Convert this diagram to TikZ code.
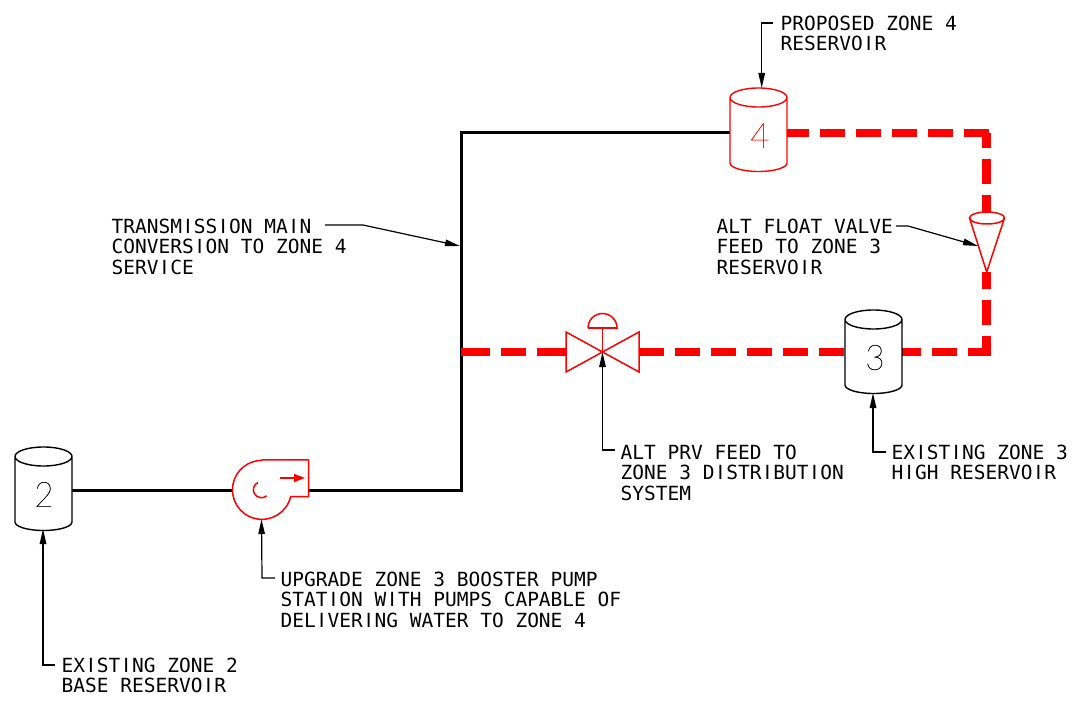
\documentclass[tikz,border=0pt]{standalone}
\usepackage{fontspec}
\usetikzlibrary{arrows.meta,calc}
\newfontfamily\labelfont{DejaVu Sans Mono}
\newfontfamily\plainIfont{DejaVu Sans}
\newfontfamily\digitfont[FakeStretch=0.95,FakeBold=0.6]{Lato Thin}
\XeTeXinterchartokenstate=1
\newXeTeXintercharclass\ltrIclass
\XeTeXcharclass`I=\ltrIclass
\XeTeXinterchartoks 0 \ltrIclass={\begingroup\plainIfont\kern3pt}
\XeTeXinterchartoks \ltrIclass 0={\kern3pt\endgroup}
\definecolor{pipered}{RGB}{255,0,0}
\tikzset{
  x=1pt,y=-1pt,
  tankbox/.style={minimum width=57pt,minimum height=#1,inner sep=0pt,outer sep=0pt},
  tankline/.style={line width=1.4pt,line join=round},
  mainpipe/.style={line width=3pt,black,line join=miter},
  altpipe/.style={line width=8.8pt,pipered,dash pattern=on 25pt off 11pt},
  symb/.style={line width=1.5pt,pipered,line join=miter},
  leader/.style={line width=1.2pt,black,line join=miter,-{Triangle[length=15pt,width=6.5pt]}},
  lab/.style={anchor=north west,inner sep=0pt,outer sep=0pt,align=left,text=black,
    font=\labelfont\fontsize{19.5pt}{20.3pt}\selectfont},
  dig/.style={inner sep=0pt,font=\digitfont\fontsize{35pt}{35pt}\selectfont}
}
\newcommand{\tankdraw}[2]{% name, colour
  \draw[tankline,#2]
    (#1.north west)++(0,9.5) arc[start angle=180,end angle=0,x radius=28.5pt,y radius=9.5pt]
    arc[start angle=0,end angle=-180,x radius=28.5pt,y radius=9.5pt] -- ++(0,65.5)
    arc[start angle=180,end angle=360,x radius=28.5pt,y radius=8.5pt] -- ++(0,-65.5);
}
\begin{document}
\begin{tikzpicture}
\useasboundingbox (0,0) rectangle (1078,708);
% anchors
\coordinate (a4w) at (730,133);
\coordinate (a4e) at (787,133);
\coordinate (junctop) at (461,133);
\coordinate (junclow) at (461,352);
\coordinate (juncbase) at (461,490);
\coordinate (cornertop) at (991,133);
\coordinate (cornertopv) at (986.7,133);
\coordinate (cornerbot) at (991,352);
\coordinate (cornerbotv) at (986.7,352);
\coordinate (a3w) at (845,352);
\coordinate (a3e) at (902,352);
\coordinate (a2e) at (72,490);
\coordinate (pw) at (232,490);
\coordinate (pe) at (309,490);
\coordinate (vl) at (566,352);
\coordinate (vr) at (639,352);
\coordinate (ftop) at (986.7,212.5);
\coordinate (ftip) at (986.7,272);
% tanks
\node[tankbox=83.5pt] (t4) at (758.5,129.75) {};
\node[tankbox=83pt] (t3) at (873.5,351.5) {};
\node[tankbox=82pt] (t2) at (43.5,488) {};
\node[inner sep=0pt,minimum width=59pt,minimum height=59pt,circle] (pump) at (261.5,489.5) {};
\node[inner sep=0pt,minimum size=0pt] (valve) at (602.5,352) {};
% pipes
\draw[mainpipe] (a2e) -- (pw);
\draw[mainpipe] (pe) -- (juncbase) -- (junctop) -- (a4w);
\draw[altpipe,dash phase=3pt] (a4e) -- (cornertop);
\draw[altpipe,dash phase=10pt] (cornertopv) -- (ftop);
\draw[altpipe,dash phase=9pt] (cornerbotv) -- (ftip);
\draw[altpipe,dash phase=6pt] (a3e) -- (cornerbot);
\draw[altpipe] (vr) -- (a3w);
\draw[altpipe,dash pattern=on 28.5pt off 11.5pt on 25pt off 10.5pt on 29pt] (junclow) -- (vl);
% tank outlines
\tankdraw{t4}{pipered}
\tankdraw{t3}{black}
\tankdraw{t2}{black}
\node[dig,pipered] (d4) at (760,135.5) {4};
\node[dig,black] (d3) at (875,357.5) {3};
\node[dig,black] (d2) at (44,494.5) {2};
% pump
\draw[symb] (pump.north) -- (308.5,460) -- (308.5,496.5) -- (290.7,496.5)
  arc[start angle=-13,end angle=-270,radius=29.5pt];
\draw[symb] (258,482.5) arc[start angle=115,end angle=310,radius=8pt];
\coordinate (arst) at (280,478);
\coordinate (aren) at (305,478);
\draw[symb,line width=1.3pt,-{Triangle[length=11pt,width=8pt]}] (arst) -- (aren);
% valve
\draw[symb] (valve.center) -- (566,332) -- (566,372) -- cycle;
\draw[symb] (valve.center) -- (639,332) -- (639,372) -- cycle;
\draw[symb] (valve.center) -- (602.5,328);
\draw[symb] (588,328) -- (617,328) arc[start angle=0,end angle=180,radius=14.5pt];
% float valve
\draw[symb] (969.5,218) -- (ftip) -- (1004.5,218);
\draw[symb] (987,218) ellipse[x radius=17.5pt,y radius=6pt];
% labels
\node[lab] (lp4) at (780.7,16) {PROPOSED ZONE 4\\RESERVOIR};
\node[lab] (ltm) at (111.7,219) {TRANSMISSION MAIN\\CONVERSION TO ZONE 4\\SERVICE};
\node[lab] (lfv) at (716.7,219) {ALT FLOAT VALVE\\FEED TO ZONE 3\\RESERVOIR};
\node[lab] (lprv) at (620.7,445) {ALT PRV FEED TO\\ZONE 3 DISTRIBUTION\\SYSTEM};
\node[lab] (le3) at (891.7,445) {EXISTING ZONE 3\\HIGH RESERVOIR};
\node[lab] (lup) at (280.7,572) {UPGRADE ZONE 3 BOOSTER PUMP\\STATION WITH PUMPS CAPABLE OF\\DELIVERING WATER TO ZONE 4};
\node[lab] (le2) at (61.7,658) {EXISTING ZONE 2\\BASE RESERVOIR};
% leaders
\coordinate (s4) at (773,23);
\coordinate (k4) at (761.7,23);
\draw[leader] (s4) -- (k4) -- (k4 |- t4.north);
\coordinate (stm) at (325,225);
\coordinate (ktm) at (363,225);
\coordinate (etm) at (460,246);
\draw[leader] (stm) -- (ktm) -- (etm);
\coordinate (sfv) at (896,226);
\coordinate (kfv) at (908,226);
\coordinate (efv) at (978,246);
\draw[leader] (sfv) -- (kfv) -- (efv);
\coordinate (sprv) at (615,450);
\coordinate (kprv) at (602.5,450);
\draw[leader] (sprv) -- (kprv) -- (valve.center);
\coordinate (se3) at (886,452);
\coordinate (ke3) at (873,452);
\draw[leader] (se3) -- (ke3) -- (ke3 |- t3.south);
\coordinate (sup) at (275,578);
\coordinate (kup) at (262,578);
\draw[leader] (sup) -- (kup) -- (pump.south);
\coordinate (se2) at (55,665);
\coordinate (ke2) at (43,665);
\draw[leader] (se2) -- (ke2) -- (ke2 |- t2.south);
\end{tikzpicture}
\end{document}
